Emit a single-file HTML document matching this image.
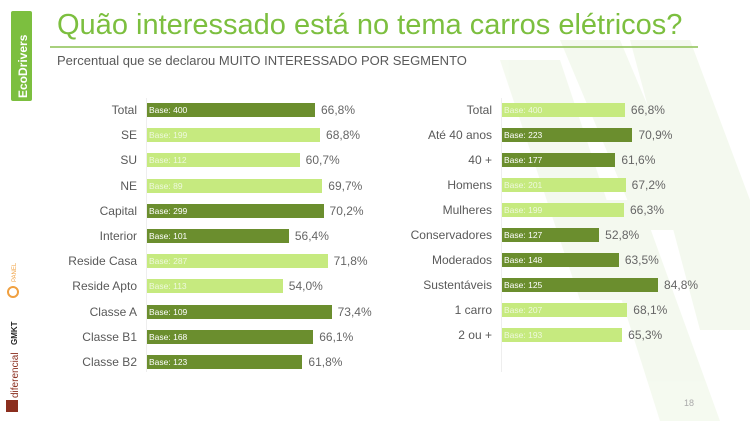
<!DOCTYPE html>
<html><head><meta charset="utf-8"><style>
body{margin:0;width:750px;height:421px;background:#fff;position:relative;overflow:hidden;font-family:"Liberation Sans",sans-serif}
.a{position:absolute}
.lab{position:absolute;text-align:right;font-size:12px;color:#595959;width:130px;line-height:14px}
.bar{position:absolute;height:14px;font-size:8.5px;line-height:14px;padding-left:2px;box-sizing:border-box;color:#fff}
.d{background:#6b8e2e}.l{background:#c6ea7f;color:#eef8dd}
.val{position:absolute;font-size:12px;color:#666;line-height:14px}
</style></head><body>
<svg class="a" style="left:0;top:0" width="750" height="421">
<g fill="#7cbf3f" opacity="0.08">
<polygon points="500,60 560,60 640,300 580,300"/>
<polygon points="560,40 620,40 700,230 640,230"/>
<polygon points="630,40 690,40 750,200 750,300 700,300"/>
<polygon points="590,200 640,200 720,421 660,421"/>
<polygon points="660,180 720,180 750,260 750,330 700,330"/>
</g>
<rect x="11" y="11" width="21" height="90" rx="2" fill="#7cbf3f"/>
<text x="0" y="0" transform="translate(27,98) rotate(-90)" font-size="12" font-weight="bold" fill="#fff" font-family="Liberation Sans">EcoDrivers</text>
<circle cx="13" cy="292" r="5" fill="none" stroke="#f0a040" stroke-width="2"/>
<text x="0" y="0" transform="translate(16,282) rotate(-90)" font-size="6" fill="#f0a040">PANEL</text>
<text x="0" y="0" transform="translate(17,345) rotate(-90)" font-size="8" font-weight="bold" fill="#222">GMKT</text>
<text x="0" y="0" transform="translate(18,398) rotate(-90)" font-size="10" fill="#8b2e1e">diferencial</text>
<rect x="6" y="400" width="12" height="12" fill="#8b2e1e"/>
<line x1="50" y1="47" x2="698" y2="47" stroke="#8cc152" stroke-width="1.5"/>
<line x1="146.5" y1="98" x2="146.5" y2="372" stroke="#eee"/>
<line x1="501.5" y1="98" x2="501.5" y2="372" stroke="#eee"/>
<text x="684" y="406" font-size="9" fill="#aaa">18</text>
</svg>
<div class="a" style="left:57px;top:9px;font-size:29px;color:#7cbf3f;white-space:nowrap">Quão interessado está no tema carros elétricos?</div>
<div class="a" style="left:57px;top:53px;font-size:13px;color:#595959;white-space:nowrap">Percentual que se declarou MUITO INTERESSADO POR SEGMENTO</div>
<div id="c"></div>
<script>
var L=[["Total",400,66.8,1],["SE",199,68.8,0],["SU",112,60.7,0],["NE",89,69.7,0],["Capital",299,70.2,1],["Interior",101,56.4,1],["Reside Casa",287,71.8,0],["Reside Apto",113,54.0,0],["Classe A",109,73.4,1],["Classe B1",168,66.1,1],["Classe B2",123,61.8,1]];
var R=[["Total",400,66.8,0],["Até 40 anos",223,70.9,1],["40 +",177,61.6,1],["Homens",201,67.2,0],["Mulheres",199,66.3,0],["Conservadores",127,52.8,1],["Moderados",148,63.5,1],["Sustentáveis",125,84.8,1],["1 carro",207,68.1,0],["2 ou +",193,65.3,0]];
var h="";
function f(a,x0,lx,sc,y0,dy){a.forEach(function(r,i){var y=y0+i*dy-7,w=r[2]*sc;
h+='<div class="lab" style="left:'+(lx-130)+'px;top:'+y+'px">'+r[0]+'</div>';
h+='<div class="bar '+(r[3]?'d':'l')+'" style="left:'+x0+'px;top:'+y+'px;width:'+w+'px">Base: '+r[1]+'</div>';
h+='<div class="val" style="left:'+(x0+w+6)+'px;top:'+y+'px">'+r[2].toFixed(1).replace('.',',')+'%</div>';});}
f(L,147,137,2.515,110,25.2);
f(R,502,492,1.84,110,25);
document.getElementById("c").innerHTML=h;
</script>
</body></html>
